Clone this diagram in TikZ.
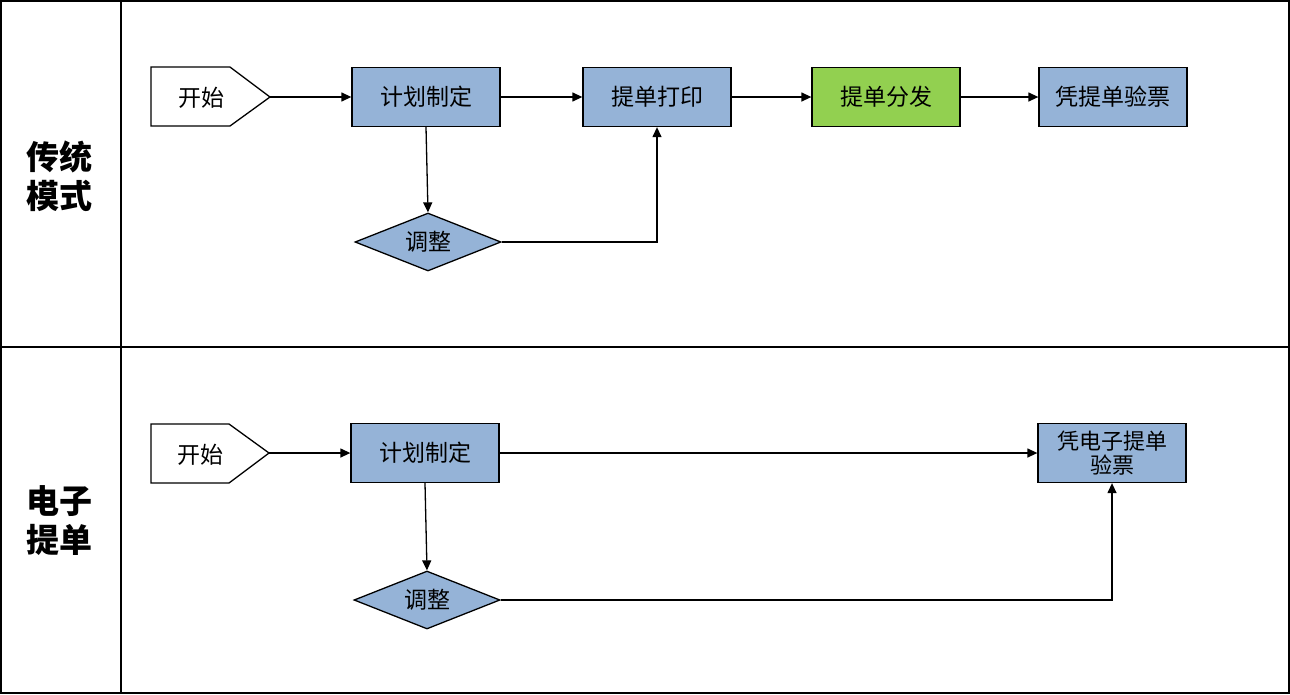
\documentclass[tikz,border=0pt]{standalone}
\usepackage{fontspec}
\setmainfont{Noto Sans CJK SC}
\usetikzlibrary{shapes.geometric,shapes.symbols,arrows.meta}
\definecolor{boxblue}{HTML}{95B3D7}
\definecolor{boxgreen}{HTML}{92D050}
\begin{document}
\begin{tikzpicture}[x=1pt,y=-1pt,
  proc/.style={draw=black,line width=1.3pt,fill=boxblue,minimum width=148pt,minimum height=59pt,inner sep=0pt,font=\fontsize{23}{25}\selectfont,align=center},
  dec/.style={draw=black,line width=1.3pt,fill=boxblue,diamond,aspect=2.5,minimum width=146pt,minimum height=58pt,inner sep=0pt,font=\fontsize{23}{25}\selectfont},
  conn/.style={line width=1.3pt,-{Triangle[length=10pt,width=9pt]}},
  lane/.style={font=\fontsize{33}{39}\selectfont\bfseries,align=center}
]
\useasboundingbox (0,0) rectangle (1290,694);
% frame
\draw[line width=2pt] (1,1) rectangle (1289,693);
\draw[line width=2pt] (121,1) -- (121,693);
\draw[line width=2pt] (1,347) -- (1289,347);
\node[lane] (l1) at (60,176) {传统\\模式};
\node[lane] (l2) at (60,521) {电子\\提单};

% top lane
\draw[line width=1.3pt,fill=white] (151,67) -- (230,67) -- (270,97) -- (230,126) -- (151,126) -- cycle;
\coordinate (s1) at (270,97);
\node[font=\fontsize{23}{25}\selectfont] (s1t) at (201,98) {开始};
\node[proc] (a1) at (426,97) {计划制定};
\node[proc] (a2) at (657,97) {提单打印};
\node[proc,fill=boxgreen] (a3) at (886,97) {提单分发};
\node[proc] (a4) at (1113,97) {凭提单验票};
\node[dec] (d1) at (428,242) {调整};
\draw[conn] (s1) -- (a1);
\draw[conn] (a1) -- (a2);
\draw[conn] (a2) -- (a3);
\draw[conn] (a3) -- (a4);
\draw[conn] (a1.south) -- (d1.north);
\draw[conn] (d1.east) -| (a2.south);

% bottom lane
\draw[line width=1.3pt,fill=white] (151,424) -- (229,424) -- (269,453) -- (229,483) -- (151,483) -- cycle;
\coordinate (s2) at (269,453);
\node[font=\fontsize{23}{25}\selectfont] (s2t) at (200,455) {开始};
\node[proc] (b1) at (425,453) {计划制定};
\node[proc,font=\fontsize{22}{24}\selectfont] (b2) at (1112,453) {凭电子提单\\验票};
\node[dec] (d2) at (427,600) {调整};
\draw[conn] (s2) -- (b1);
\draw[conn] (b1) -- (b2);
\draw[conn] (b1.south) -- (d2.north);
\draw[conn] (d2.east) -| (b2.south);
\end{tikzpicture}
\end{document}
